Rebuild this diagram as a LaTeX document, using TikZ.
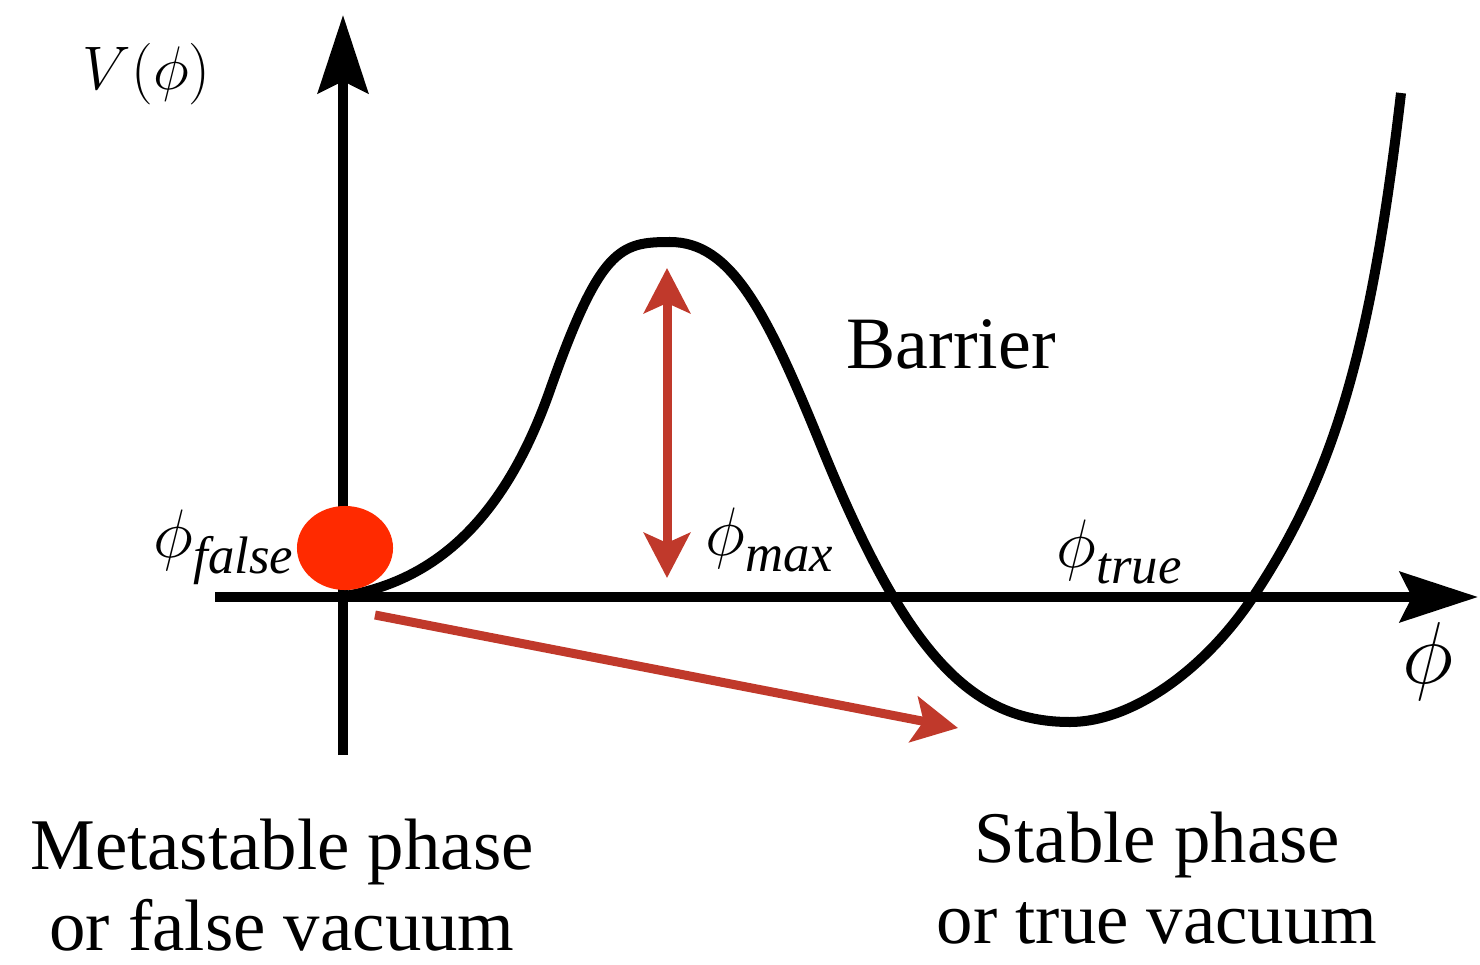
\RequirePackage{fix-cm}
\documentclass[tikz,border=0pt]{standalone}
\usepackage{fontspec}
\setmainfont{Liberation Serif}
\usetikzlibrary{arrows.meta,shapes.geometric}
\definecolor{arrowred}{RGB}{192,57,43}
\definecolor{dotred}{RGB}{255,42,0}
\newcommand{\philabel}[1]{\fontsize{19.5}{22}\selectfont$\phi$\raisebox{-0.16cm}{\fontsize{15}{17}\selectfont\itshape #1}}
\begin{document}
\begin{tikzpicture}[x=0.01cm,y=-0.01cm,
  axis/.style={line width=0.1cm,-{Stealth[length=0.78cm,width=0.5cm,inset=0.12cm]}},
  curve/.style={line width=0.1cm,line join=round},
  redarrow/.style={draw=arrowred,line width=0.09cm,-{Stealth[length=0.45cm,width=0.46cm,inset=0.1cm]},color=arrowred},
  lab/.style={inner sep=0pt,font=\fontsize{20.7}{22.8}\selectfont,align=center,anchor=base},
  philab/.style={inner sep=0pt,anchor=base west}]
\useasboundingbox (0,0) rectangle (1480,964);
% axes
\coordinate (xs) at (215,597);
\coordinate (xe) at (1478,597);
\coordinate (ys) at (343,755);
\coordinate (ye) at (343,15);
\draw[axis] (xs) -- (xe);
\draw[axis] (ys) -- (ye);
% potential curve
\draw[curve] (345,596) .. controls (425,582) and (500,532) .. (550,390)
  .. controls (600,248) and (620,242) .. (670,242)
  .. controls (730,242) and (765,308) .. (820,443)
  .. controls (905,653) and (970,722) .. (1070,722)
  .. controls (1130,722) and (1203,672) .. (1253,597)
  .. controls (1334,475) and (1371,350) .. (1401,93);
% red dot
\node[ellipse,fill=dotred,minimum width=0.96cm,minimum height=0.84cm,inner sep=0pt] (dot) at (345,548) {};
% barrier arrow
\coordinate (bt) at (667,268);
\coordinate (bb) at (667,578);
\draw[redarrow,{Stealth[length=0.45cm,width=0.46cm,inset=0.1cm]}-{Stealth[length=0.45cm,width=0.46cm,inset=0.1cm]}] (bb) -- (bt);
% tunnelling arrow
\coordinate (ts) at (375,615);
\coordinate (te) at (958,728);
\draw[redarrow] (ts) -- (te);
% labels
\node[inner sep=0pt,anchor=base west,font=\fontsize{17.5}{20}\selectfont] (vphi) at (82,90) {$V(\phi)$};
\node[philab] (pfalse) at (153,557) {\philabel{false}};
\node[philab] (pmax) at (705,555) {\philabel{max}};
\node[philab] (ptrue) at (1056,567) {\philabel{true}};
\node[inner sep=0pt,anchor=base west,font=\fontsize{25}{28}\selectfont] (phi) at (1402,683) {$\phi$};
\node[lab,font=\fontsize{21}{24}\selectfont] (barrier) at (951,368) {Barrier};
\node[lab] (meta) at (282,950) {Metastable phase\\or false vacuum};
\node[lab] (stable) at (1157,943) {Stable phase\\or true vacuum};
\end{tikzpicture}
\end{document}
